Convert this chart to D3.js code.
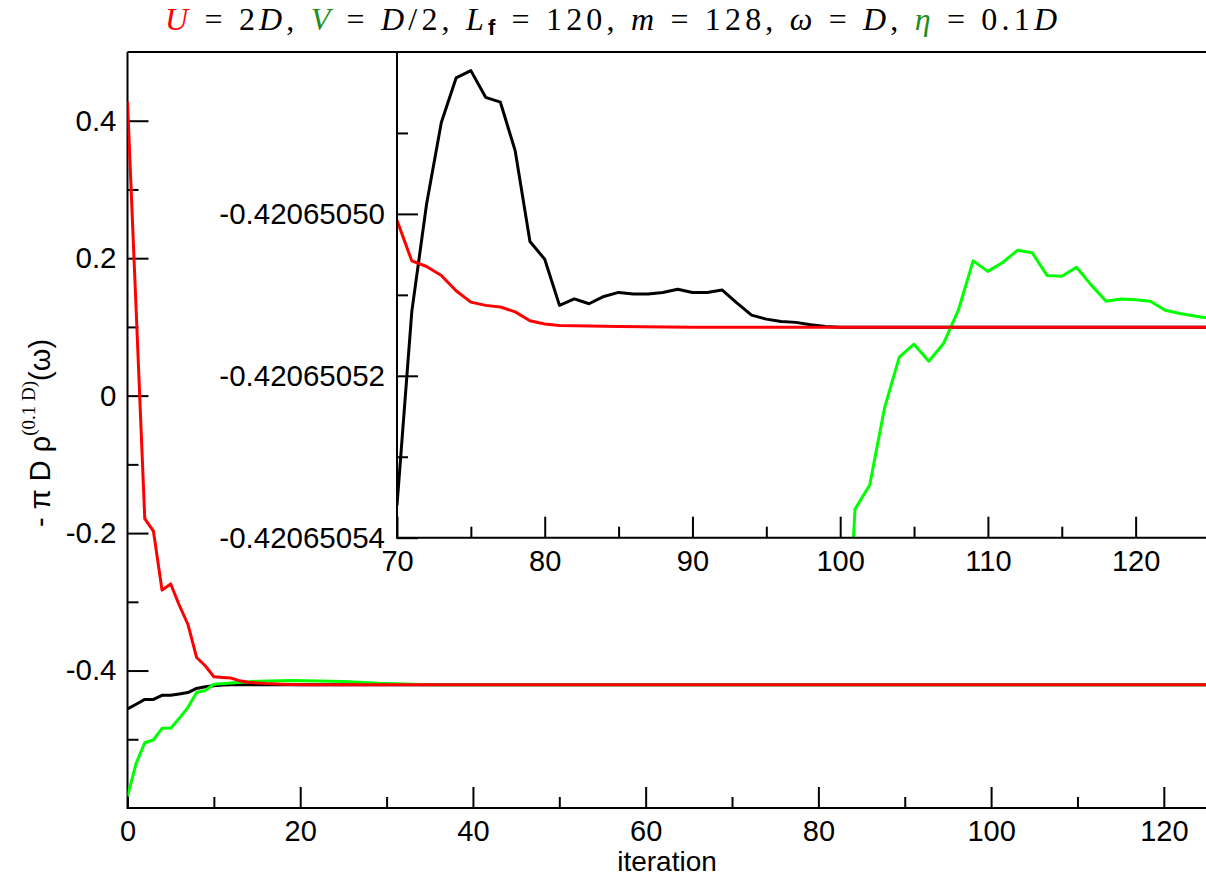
<!DOCTYPE html>
<html>
<head>
<meta charset="utf-8">
<script src="https://cdn.jsdelivr.net/npm/d3@7"></script>
<style>
  html, body { margin: 0; padding: 0; background: #fff; }
  svg { display: block; }
</style>
</head>
<body>
<svg id="chart" width="1206" height="878"></svg>
<script>
// ---- Convergence data: [iteration, -pi D rho(omega)] ----
const mainBlack = [[0,-0.456],[1,-0.449],[2,-0.442],[3,-0.442],[4,-0.436],[5,-0.436],[6,-0.434],
  [7,-0.432],[8,-0.426],[9,-0.4235],[10,-0.422],[11,-0.421],[12,-0.4207],[125,-0.42065]];
const mainGreen = [[0,-0.583],[1,-0.535],[2,-0.505],[3,-0.501],[4,-0.484],[5,-0.484],[6,-0.4695],
  [7,-0.4535],[8,-0.432],[9,-0.429],[10,-0.420],[12,-0.418],[15,-0.4155],[19,-0.4145],[25,-0.416],
  [29,-0.4186],[35,-0.4206],[125,-0.42065]];
const mainRed = [[0,0.428],[1,0.125],[2,-0.179],[3,-0.197],[4,-0.283],[5,-0.274],[6,-0.305],
  [7,-0.333],[8,-0.381],[9,-0.393],[10,-0.409],[11,-0.410],[12,-0.411],[13,-0.415],[14,-0.417],
  [15,-0.418],[16,-0.419],[18,-0.420],[20,-0.4205],[125,-0.42065]];

// late iterations at full precision
const insetBlack = [[70,-0.4206505360],[71,-0.4206505121],[72,-0.4206504988],[73,-0.4206504887],
  [74,-0.4206504832],[75,-0.4206504823],[76,-0.4206504856],[77,-0.4206504862],[78,-0.4206504922],
  [79,-0.4206505034],[80,-0.4206505056],[81,-0.4206505113],[82,-0.4206505105],[83,-0.4206505111],
  [84,-0.4206505102],[85,-0.4206505097],[86,-0.4206505099],[87,-0.4206505099],[88,-0.4206505097],
  [89,-0.4206505093],[90,-0.4206505097],[91,-0.4206505097],[92,-0.4206505094],[93,-0.4206505110],
  [94,-0.4206505125],[95,-0.4206505130],[96,-0.4206505133],[97,-0.4206505134],[98,-0.4206505137],
  [99,-0.4206505139],[100,-0.4206505140],[125,-0.4206505140]];
const insetGreen = [[100,-0.4206505720],[101,-0.4206505365],[102,-0.4206505335],[103,-0.4206505240],
  [104,-0.4206505177],[105,-0.4206505161],[106,-0.4206505182],[107,-0.4206505160],[108,-0.4206505119],
  [109,-0.4206505058],[110,-0.4206505071],[111,-0.4206505060],[112,-0.4206505045],[113,-0.4206505048],
  [114,-0.4206505076],[115,-0.4206505077],[116,-0.4206505066],[117,-0.4206505088],[118,-0.4206505108],
  [119,-0.4206505105],[120,-0.4206505106],[121,-0.4206505108],[122,-0.4206505119],[123,-0.4206505123],
  [124,-0.4206505126],[125,-0.4206505129]];
const insetRed = [[70,-0.4206505008],[71,-0.4206505058],[72,-0.4206505065],[73,-0.4206505076],
  [74,-0.4206505095],[75,-0.4206505109],[76,-0.4206505113],[77,-0.4206505115],[78,-0.4206505121],
  [79,-0.4206505132],[80,-0.4206505136],[81,-0.4206505138],[85,-0.4206505139],[90,-0.4206505140],
  [100,-0.4206505140],[125,-0.4206505140]];

// ---- Ticks and labels ----
const mainXTicks = [0,20,40,60,80,100,120];
const mainXMinor = [10,30,50,70,90,110];
const mainYTicks = [0.4,0.2,0,-0.2,-0.4];
const mainYLabels = ["0.4","0.2","0","-0.2","-0.4"];
const mainYMinor = [0.3,0.1,-0.1,-0.3,-0.5];
const insetXTicks = [70,80,90,100,110,120];
const insetXMinor = [75,85,95,105,115];
const insetYTicks = [-0.42065050,-0.42065052,-0.42065054];
const insetYLabels = ["-0.42065050","-0.42065052","-0.42065054"];
const insetYMinor = [-0.42065049,-0.42065051,-0.42065053];

const seriesColors = { black: "#000000", green: "#00ff00", red: "#ff0000" };

const titleParts = [
  {t:"U", it:true, c:"#ff0000"}, {t:" = 2"}, {t:"D", it:true}, {t:", "},
  {t:"V", it:true, c:"#1f8f1f"}, {t:" = "}, {t:"D", it:true}, {t:"/2, "},
  {t:"L", it:true}, {t:"f", sub:true}, {t:" = 120, "},
  {t:"m", it:true}, {t:" = 128, "},
  {t:"ω", it:true}, {t:" = "}, {t:"D", it:true}, {t:", "},
  {t:"η", it:true, c:"#1f8f1f"}, {t:" = 0.1"}, {t:"D", it:true}
];

// ---- Layout ----
const svg = d3.select("#chart");
const FONT = "'Liberation Sans', Arial, sans-serif";

const main = { left: 127.5, right: 1207, top: 52, bottom: 808 };
const inset = { left: 397, right: 1209.5, top: 52, bottom: 537.7 };

const x = d3.scaleLinear().domain([0,125]).range([main.left, main.right]);
const y = d3.scaleLinear().domain([-0.6,0.5]).range([main.bottom, main.top]);
const xi = d3.scaleLinear().domain([70,125]).range([inset.left, inset.right]);
const yi = d3.scaleLinear().domain([-0.42065054,-0.42065048]).range([inset.bottom, inset.top]);

const defs = svg.append("defs");
defs.append("clipPath").attr("id","clipMain").append("rect")
  .attr("x", main.left).attr("y", main.top)
  .attr("width", main.right - main.left).attr("height", main.bottom - main.top);
defs.append("clipPath").attr("id","clipInset").append("rect")
  .attr("x", inset.left).attr("y", inset.top)
  .attr("width", inset.right - inset.left).attr("height", inset.bottom - inset.top);

function styleAxis(g, fontSize) {
  g.select(".domain").remove();
  g.selectAll(".tick line").attr("stroke","#000").attr("stroke-width",2);
  g.selectAll(".tick text").attr("fill","#000").attr("font-family",FONT).attr("font-size",fontSize);
}

// frame of the main panel
svg.append("path")
  .attr("d", `M${main.left},${main.top}H${main.right}M${main.left},${main.top}V${main.bottom}H${main.right}`)
  .attr("fill","none").attr("stroke","#000").attr("stroke-width",2);

// main axes (ticks point inward)
svg.append("g").attr("transform",`translate(0,${main.bottom})`)
  .call(d3.axisBottom(x).tickValues(mainXTicks).tickSize(-21).tickPadding(12).tickFormat(d3.format("d")))
  .call(g => styleAxis(g, 29));
svg.append("g").attr("transform",`translate(0,${main.bottom})`)
  .call(d3.axisBottom(x).tickValues(mainXMinor).tickSize(-11).tickFormat(""))
  .call(g => styleAxis(g, 29));
svg.append("g").attr("transform",`translate(${main.left},0)`)
  .call(d3.axisLeft(y).tickValues(mainYTicks).tickSize(-21).tickPadding(11)
    .tickFormat((d,i) => mainYLabels[i]))
  .call(g => styleAxis(g, 29.5));
svg.append("g").attr("transform",`translate(${main.left},0)`)
  .call(d3.axisLeft(y).tickValues(mainYMinor).tickSize(-11).tickFormat(""))
  .call(g => styleAxis(g, 29));

// main curves
const lineMain = d3.line().x(d => x(d[0])).y(d => y(d[1]));
const gMain = svg.append("g").attr("clip-path","url(#clipMain)");
[[mainBlack,"black"],[mainGreen,"green"],[mainRed,"red"]].forEach(([data,key]) => {
  gMain.append("path").datum(data).attr("d", lineMain)
    .attr("fill","none").attr("stroke", seriesColors[key]).attr("stroke-width",3)
    .attr("stroke-linejoin","round");
});

// ---- inset panel ----
svg.append("rect")
  .attr("x", inset.left).attr("y", inset.top)
  .attr("width", inset.right - inset.left).attr("height", inset.bottom - inset.top)
  .attr("fill","#fff");

const lineInset = d3.line().x(d => xi(d[0])).y(d => yi(d[1]));
const gInset = svg.append("g").attr("clip-path","url(#clipInset)");
[[insetBlack,"black"],[insetGreen,"green"],[insetRed,"red"]].forEach(([data,key]) => {
  gInset.append("path").datum(data).attr("d", lineInset)
    .attr("fill","none").attr("stroke", seriesColors[key]).attr("stroke-width",3)
    .attr("stroke-linejoin","round");
});

svg.append("path")
  .attr("d", `M${inset.left},${inset.top}H${inset.right}M${inset.left},${inset.top}V${inset.bottom}H${inset.right}`)
  .attr("fill","none").attr("stroke","#000").attr("stroke-width",2);

svg.append("g").attr("transform",`translate(0,${inset.bottom})`)
  .call(d3.axisBottom(xi).tickValues(insetXTicks).tickSize(-21).tickPadding(13).tickFormat(d3.format("d")))
  .call(g => styleAxis(g, 29));
svg.append("g").attr("transform",`translate(0,${inset.bottom})`)
  .call(d3.axisBottom(xi).tickValues(insetXMinor).tickSize(-11).tickFormat(""))
  .call(g => styleAxis(g, 29));
svg.append("g").attr("transform",`translate(${inset.left},0)`)
  .call(d3.axisLeft(yi).tickValues(insetYTicks).tickSize(-21).tickPadding(12)
    .tickFormat((d,i) => insetYLabels[i]))
  .call(g => styleAxis(g, 29.5));
svg.append("g").attr("transform",`translate(${inset.left},0)`)
  .call(d3.axisLeft(yi).tickValues(insetYMinor).tickSize(-11).tickFormat(""))
  .call(g => styleAxis(g, 29));

// ---- axis titles ----
svg.append("text")
  .attr("x", 667).attr("y", 871).attr("text-anchor","middle")
  .attr("font-family", FONT).attr("font-size", 28).text("iteration");

const yTitle = svg.append("text")
  .attr("transform","translate(50,433) rotate(-90)")
  .attr("text-anchor","middle").attr("font-family", FONT).attr("font-size", 29);
yTitle.append("tspan").text("- π D ρ");
yTitle.append("tspan").attr("dy",-15).attr("font-size",19)
  .attr("font-family","'Liberation Serif', 'Times New Roman', serif").text("(0.1 D)");
yTitle.append("tspan").attr("dy",15).text("(ω)");

// ---- title ----
const title = svg.append("text")
  .attr("x", 611).attr("y", 30).attr("text-anchor","middle")
  .attr("font-family","'Liberation Serif', 'Times New Roman', serif").attr("font-size", 32)
  .attr("textLength", 892).attr("lengthAdjust","spacing");
let shifted = 0;
titleParts.forEach(p => {
  const ts = title.append("tspan").text(p.t).attr("fill", p.c || "#000");
  if (p.it) ts.attr("font-style","italic");
  if (p.sub) {
    ts.attr("dy", 5).attr("font-size", 22).attr("font-family", FONT).attr("font-weight","bold");
    shifted = 5;
  } else if (shifted) {
    ts.attr("dy", -shifted);
    shifted = 0;
  }
});
</script>
</body>
</html>
